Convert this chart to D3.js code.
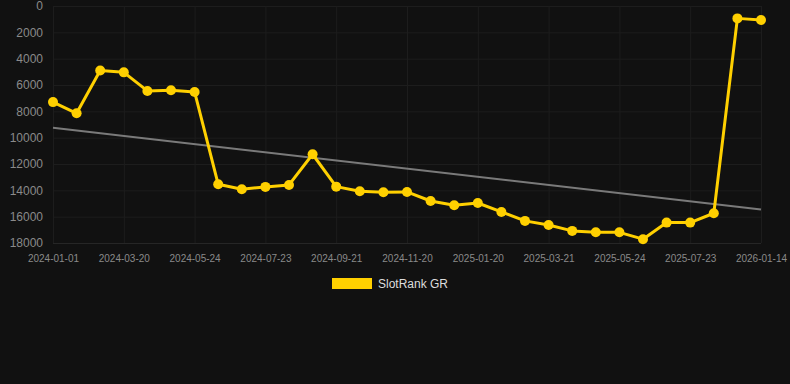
<!DOCTYPE html>
<html>
<head>
<meta charset="utf-8">
<script src="https://cdn.jsdelivr.net/npm/d3@7"></script>
<style>
  html, body { margin: 0; padding: 0; background: #111111; }
  svg { display: block; font-family: "Liberation Sans", Arial, sans-serif; }
</style>
</head>
<body>
<svg width="790" height="384"></svg>
<script>
var dates = [
  '2024-01-01', '2024-01-27', '2024-02-22', '2024-03-20', '2024-04-11', '2024-05-02',
  '2024-05-24', '2024-06-13', '2024-07-03', '2024-07-23', '2024-08-12', '2024-09-01',
  '2024-09-21', '2024-10-11', '2024-10-31', '2024-11-20', '2024-12-10', '2024-12-31',
  '2025-01-20', '2025-02-09', '2025-03-01', '2025-03-21', '2025-04-11', '2025-05-03',
  '2025-05-24', '2025-06-13', '2025-07-03', '2025-07-23', '2025-08-12', '2025-12-25',
  '2026-01-14'
];
var ranks = [
  7300, 8150, 4900, 5040, 6450, 6400,
  6530, 13540, 13920, 13740, 13590, 11260,
  13720, 14070, 14150, 14120, 14810, 15130,
  14960, 15640, 16320, 16630, 17080, 17190,
  17190, 17710, 16450, 16450, 15740, 940,
  1060
];
var trend = [9250, 15450];
var yTicks = [0, 2000, 4000, 6000, 8000, 10000, 12000, 14000, 16000, 18000];
var xTickLabels = ['2024-01-01', '2024-03-20', '2024-05-24', '2024-07-23', '2024-09-21',
  '2024-11-20', '2025-01-20', '2025-03-21', '2025-05-24', '2025-07-23', '2026-01-14'];
var seriesName = 'SlotRank GR';

var LINE_COLOR = '#ffd000';
var GRID_COLOR = '#1d1d1d';
var LABEL_COLOR = '#8a8a8a';

var svg = d3.select('svg');

var x = d3.scalePoint().domain(dates).range([53, 761]);
var y = d3.scaleLinear().domain([0, 18000]).range([6, 243]);

// horizontal grid
svg.append('g')
  .selectAll('line')
  .data(yTicks)
  .enter().append('line')
  .attr('x1', 53).attr('x2', 761)
  .attr('y1', function (d) { return y(d) + 0.5; })
  .attr('y2', function (d) { return y(d) + 0.5; })
  .style('stroke', function (d) { return d === 18000 ? '#262626' : GRID_COLOR; });

// vertical grid
svg.append('g')
  .selectAll('line')
  .data(xTickLabels)
  .enter().append('line')
  .attr('x1', function (d) { return x(d) + 0.5; })
  .attr('x2', function (d) { return x(d) + 0.5; })
  .attr('y1', 6).attr('y2', 243)
  .style('stroke', GRID_COLOR);

// y axis labels
var yAxis = svg.append('g')
  .attr('transform', 'translate(53,0)')
  .call(d3.axisLeft(y).tickValues(yTicks).tickSize(0).tickPadding(10).tickFormat(d3.format('d')));
yAxis.select('.domain').remove();
yAxis.selectAll('text')
  .style('fill', LABEL_COLOR)
  .style('font-size', '12px')
  .style('font-family', '"Liberation Sans", Arial, sans-serif');

// x axis labels
var xAxis = svg.append('g')
  .attr('transform', 'translate(0,243)')
  .call(d3.axisBottom(x).tickValues(xTickLabels).tickSize(0).tickPadding(12));
xAxis.select('.domain').remove();
xAxis.selectAll('text')
  .style('fill', LABEL_COLOR)
  .style('font-size', '10px')
  .style('font-family', '"Liberation Sans", Arial, sans-serif');

// trend line
svg.append('line')
  .attr('x1', x(dates[0])).attr('y1', y(trend[0]))
  .attr('x2', x(dates[dates.length - 1])).attr('y2', y(trend[1]))
  .style('stroke', '#7a7a7a')
  .style('stroke-width', 2);

// series line
var line = d3.line()
  .x(function (d, i) { return x(dates[i]); })
  .y(function (d) { return y(d); });

svg.append('path')
  .datum(ranks)
  .attr('d', line)
  .style('fill', 'none')
  .style('stroke', LINE_COLOR)
  .style('stroke-width', 3)
  .style('stroke-linejoin', 'round');

svg.append('g')
  .selectAll('circle')
  .data(ranks)
  .enter().append('circle')
  .attr('cx', function (d, i) { return x(dates[i]); })
  .attr('cy', function (d) { return y(d); })
  .attr('r', 5)
  .style('fill', LINE_COLOR);

// legend
var legend = svg.append('g').attr('transform', 'translate(332,278)');
legend.append('rect')
  .attr('width', 40).attr('height', 11)
  .style('fill', LINE_COLOR);
legend.append('text')
  .attr('x', 46).attr('y', 10)
  .text(seriesName)
  .style('fill', '#dddddd')
  .style('font-size', '12px');
</script>
</body>
</html>
